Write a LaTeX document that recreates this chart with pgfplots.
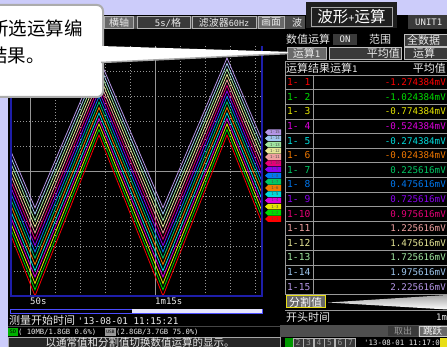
\documentclass[border=0pt]{standalone}
\usepackage{pgfplots}
\pgfplotsset{compat=1.18}
\usepackage{pgfplotstable}
\usepackage{fontspec}
\setmainfont{Noto Sans CJK SC}
\newfontfamily\mono{DejaVu Sans Mono}
\newcommand\fs[1]{\fontsize{#1}{#1}\selectfont}
\definecolor{lav}{RGB}{204,204,250}
\definecolor{barbg}{RGB}{78,78,78}
\definecolor{boxbg}{RGB}{58,58,58}
\definecolor{boxlt}{RGB}{105,105,105}
\definecolor{txt}{RGB}{235,235,235}
\definecolor{gridc}{RGB}{150,150,150}
\definecolor{blueb}{RGB}{30,30,170}
\definecolor{c1}{RGB}{255,0,0}
\definecolor{c2}{RGB}{0,220,0}
\definecolor{c3}{RGB}{230,230,0}
\definecolor{c4}{RGB}{220,0,220}
\definecolor{c5}{RGB}{0,220,220}
\definecolor{c6}{RGB}{240,120,0}
\definecolor{c7}{RGB}{0,200,100}
\definecolor{c8}{RGB}{0,120,240}
\definecolor{c9}{RGB}{140,0,240}
\definecolor{c10}{RGB}{230,0,120}
\definecolor{c11}{RGB}{240,160,160}
\definecolor{c12}{RGB}{230,230,150}
\definecolor{c13}{RGB}{160,230,160}
\definecolor{c14}{RGB}{160,200,240}
\definecolor{c15}{RGB}{180,150,230}
\pgfplotstableread{
t     s1    s2    s3    s4    s5    s6    s7    s8    s9    s10   s11   s12   s13   s14   s15
38.2  1.44  1.66  1.88  2.10  2.32  2.54  2.76  2.98  3.20  3.42  3.64  3.86  4.08  4.30  4.52
51.0 -5.00 -4.75 -4.50 -4.24 -3.99 -3.74 -3.49 -3.24 -2.98 -2.73 -2.48 -2.23 -1.98 -1.72 -1.47
63.8  1.44  1.66  1.88  2.10  2.32  2.54  2.76  2.98  3.20  3.42  3.64  3.86  4.08  4.30  4.52
76.6 -5.00 -4.75 -4.50 -4.24 -3.99 -3.74 -3.49 -3.24 -2.98 -2.73 -2.48 -2.23 -1.98 -1.72 -1.47
89.4  1.44  1.66  1.88  2.10  2.32  2.54  2.76  2.98  3.20  3.42  3.64  3.86  4.08  4.30  4.52
102.2 -5.00 -4.75 -4.50 -4.24 -3.99 -3.74 -3.49 -3.24 -2.98 -2.73 -2.48 -2.23 -1.98 -1.72 -1.47
}\tri
\begin{document}
\begin{tikzpicture}[x=1pt,y=-1pt]
\useasboundingbox (0,0) rectangle (447,347);
\clip (0,0) rectangle (447,347);
\fill[lav] (0,0) rectangle (447,347);
\fill[black] (8,15) rectangle (447,347);
% top bar
\fill[barbg] (100,16) rectangle (305,29);
\draw[gray!60, fill=boxlt] (104,16.5) rectangle (133,28.5);
\node[text=txt, font=\fs{10}] at (119,22.5) {横轴};
\draw[gray!60, fill=boxbg] (137,16.5) rectangle (190,28.5);
\node[text=txt, font=\mono\fs{9}] at (168,22.5) {5s/\fs{10}\rmfamily 格};
\draw[gray!60, fill=boxbg] (192,16.5) rectangle (256,28.5);
\node[text=txt, font=\fs{10}, inner sep=0pt] at (224,22.5) {滤波器{\mono\fs{8.5}60Hz}};
\draw[gray!60, fill=boxlt] (258,16.5) rectangle (284,28.5);
\node[text=txt, font=\fs{10}] at (271,22.5) {画面};
\node[text=txt, font=\fs{10}] at (297,22.5) {波};
% waveform+calc tab
\fill[black!88] (306,2) rectangle (397,28);
\draw[gray!70, line width=0.8pt] (311,7) rectangle (392,26.5);
\node[text=white, font=\fs{15.5}, inner sep=0pt] at (351.5,16.5) {波形{\fs{11}+}运算};
\fill[boxbg] (408,15) rectangle (447,29);
\node[text=txt, font=\mono\fs{9}, anchor=west, inner sep=0pt] at (415,22) {UNIT1};
% row 2
\node[text=txt, font=\fs{11}, anchor=west, inner sep=0pt] at (286,39.5) {数值运算};
\fill[boxbg] (333,34) rectangle (357,45.5);
\node[text=txt, font=\mono\fs{9}] at (345,39.7) {ON};
\node[text=txt, font=\fs{11}] at (380,39.5) {范围};
\draw[gray!50, fill=boxbg] (404,34) rectangle (448,46);
\node[text=txt, font=\fs{11}, anchor=west, inner sep=0pt] at (407,40) {全数据};
% row 3
\draw[gray!60, fill=boxlt] (287,47.5) rectangle (326,59.5);
\node[text=txt, font=\fs{11}, inner sep=0pt] at (306.5,53.5) {运算{\mono\fs{9}1}};
\draw[gray!50, fill=boxbg] (329,47.5) rectangle (401,59.5);
\node[text=txt, font=\fs{11}, anchor=east, inner sep=0pt] at (400,53.5) {平均值};
\draw[gray!50, fill=boxbg] (404,47.5) rectangle (448,59.5);
\node[text=txt, font=\fs{11}, inner sep=0pt] at (424,53.5) {运算};
% table header
\draw[gray!80] (285,61) -- (447,61);
\node[text=txt, font=\fs{11}, anchor=west, inner sep=0pt] at (286,68) {运算结果运算{\mono\fs{9}1}};
\node[text=txt, font=\fs{11}, anchor=east, inner sep=0pt] at (446,68) {平均值};
\draw[gray!80] (285,61) -- (285,294);
\draw[gray!80] (313,75) -- (313,294);
\foreach \i/\lab/\val in {1/{1- 1}/-1.274384, 2/{1- 2}/-1.024384, 3/{1- 3}/-0.774384, 4/{1- 4}/-0.524384, 5/{1- 5}/-0.274384, 6/{1- 6}/-0.024384, 7/{1- 7}/0.225616, 8/{1- 8}/0.475616, 9/{1- 9}/0.725616, 10/{1-10}/0.975616, 11/{1-11}/1.225616, 12/{1-12}/1.475616, 13/{1-13}/1.725616, 14/{1-14}/1.975616, 15/{1-15}/2.225616}{
  \pgfmathsetmacro\ya{75+(\i-1)*14.6}
  \pgfmathsetmacro\yc{\ya+7.3}
  \draw[gray!80] (285,\ya) -- (447,\ya);
  \node[text=c\i, font=\mono\fs{9.6}, anchor=west, inner sep=0pt] at (287,\yc) {\lab};
  \node[text=c\i, font=\mono\fs{9.2}, anchor=east, inner sep=0pt] at (446,\yc) {\val mV};
}
\draw[gray!80] (285,294) -- (447,294);
% plot
\begin{axis}[
  at={(11pt,-296pt)}, anchor=south west, scale only axis,
  width=251pt, height=250pt,
  xmin=46.2, xmax=96.4, ymin=-5, ymax=5,
  axis background/.style={fill=black},
  axis line style={draw=none},
  xtick={55,60,65,70,80,85,90,95}, xticklabels={},
  ytick={-4,-3,-2,-1,1,2,3,4}, yticklabels={},
  major tick length=0pt,
  grid=major,
  major grid style={gridc, dash pattern=on 1pt off 2pt, line width=0.7pt},
  extra x ticks={50,75}, extra x tick labels={50s,1m15s},
  extra y ticks={0}, extra y tick labels={},
  extra tick style={grid=major, major grid style={solid, gridc, line width=0.9pt}, major tick length=0pt},
  xticklabel style={font=\mono\fs{9}, text=txt, anchor=north west, inner sep=0pt, yshift=-2pt, xshift=0pt},
]
\pgfplotsinvokeforeach{15,14,...,1}{
  \addplot[c#1, line width=0.8pt] table[x=t, y=s#1]{\tri};
}
\end{axis}
\draw[blueb, line width=1.3pt] (11,46) -- (11,296) -- (262,296) -- (262,46);
% channel tags
\foreach \i in {1,...,15}{
  \pgfmathsetmacro\yc{219-(\i-1)*6.2}
  \fill[c\i] (265,\yc) -- (268,{\yc-2.8}) -- (281,{\yc-2.8}) -- (281,{\yc+2.8}) -- (268,{\yc+2.8}) -- cycle;
  \node[text=black!70, font=\mono\fs{4}, inner sep=0pt] at (275,\yc) {1-\i};
}
% bottom left
\draw[blue!70!white, line width=0.8pt] (10,309) rectangle (262,313);
\fill[lav!50!white] (132,309.5) rectangle (261.5,312.5);
\node[text=txt, font=\fs{11}, anchor=west, inner sep=0pt] at (9,320.5) {测量开始时间 {\mono\fs{9.3}'13-08-01 11:15:21}};
\fill[gray!55!black] (8,325.5) rectangle (280,327);
\fill[green!70!black] (8,328) rectangle (18,335.5);
\node[text=black, font=\mono\fs{5}, inner sep=0pt] at (13,331.8) {SD};
\node[text=txt, font=\mono\fs{7.2}, anchor=west, inner sep=0pt] at (18,331.8) {( 10MB/1.8GB  0.6\%)};
\fill[gray!80] (105,328) rectangle (116,335.5);
\node[text=black, font=\mono\fs{4.5}, inner sep=0pt] at (110.5,331.8) {USB};
\node[text=txt, font=\mono\fs{7.2}, anchor=west, inner sep=0pt] at (116,331.8) {(2.8GB/3.7GB 75.0\%)};
\draw[gray!70, fill=black!85] (8.5,337.5) rectangle (280,352);
\node[text=txt, font=\fs{10.5}, inner sep=0pt] at (140,343) {以通常值和分割值切换数值运算的显示。};
% bottom right
\draw[yellow!90!black, fill=boxlt, line width=1pt] (286,295.5) rectangle (325.5,308);
\node[text=white, font=\fs{11}, inner sep=0pt] at (305.7,302) {分割值};
\shade[top color=gray!70, bottom color=white] (328,302.5) -- (447,295) -- (447,309.5) -- cycle;
\draw[gray!80] (285,310) -- (447,310);
\node[text=txt, font=\fs{11}, anchor=west, inner sep=0pt] at (286,317.5) {开头时间};
\node[text=txt, font=\mono\fs{9}, anchor=west, inner sep=0pt] at (436,317.5) {1m};
\fill[barbg] (280,325) rectangle (447,337);
\fill[boxbg] (388,326) rectangle (418,336);
\node[text=gray!80, font=\fs{9}, inner sep=0pt] at (403,331) {取出};
\draw[gray!40, fill=boxlt] (419,326) rectangle (448,336);
\node[text=white, font=\fs{9.5}, anchor=west, inner sep=0pt] at (423,331) {跳跃};
\fill[green!60!black] (285,338) rectangle (293,347);
\foreach \j in {2,...,7}{
  \pgfmathsetmacro\xa{293+(\j-2)*10.5}
  \draw[gray!60, fill=boxbg] (\xa,338) rectangle ({\xa+10},347.5);
  \node[text=gray!80, font=\mono\fs{8}, inner sep=0pt] at ({\xa+5},342.8) {\j};
}
\node[text=txt, font=\mono\fs{7.4}, anchor=west, inner sep=0pt] at (364,342.5) {'13-08-01 11:17:00};
\fill[yellow!90!black] (440,338) rectangle (447,347);
% callout
\draw[gray!65, line width=2pt, fill=white, rounded corners=6pt] (-12,5) rectangle (103,97);
\node[text=black, font=\fs{18.5}, anchor=west, inner sep=0pt] at (-10,28.5) {所选运算编};
\node[text=black, font=\fs{18.5}, anchor=west, inner sep=0pt] at (-11,55) {结果。};
\fill[white] (100,46) -- (288,51.8) -- (288,53.6) -- (100,62.5) -- cycle;
\draw[gray!70, line width=1.5pt] (101,62.5) -- (288,53.6);
\end{tikzpicture}
\end{document}
